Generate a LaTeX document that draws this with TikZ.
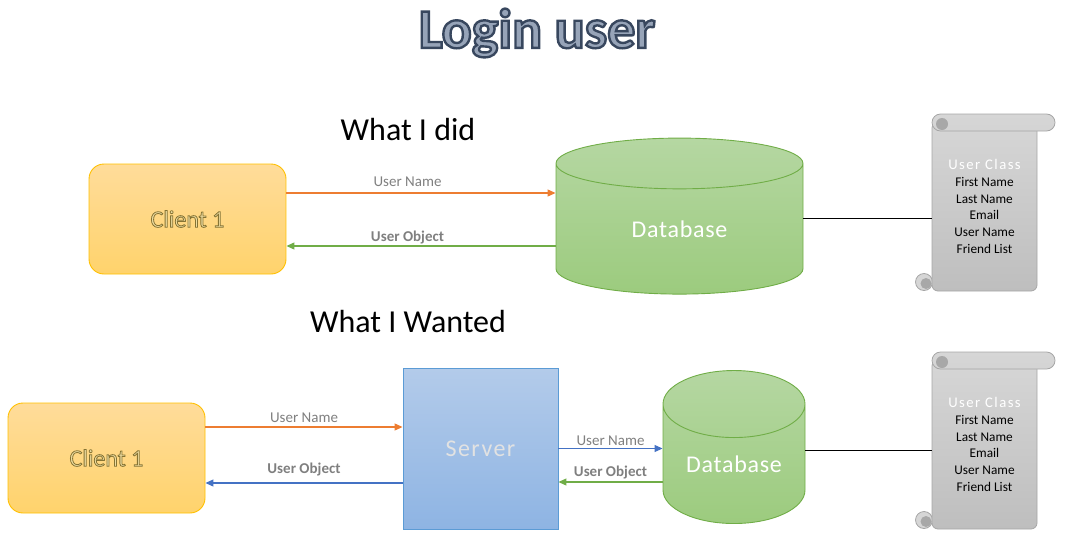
\documentclass[tikz,border=0pt]{standalone}
\usepackage{fontspec}
\setmainfont{Carlito}
\usetikzlibrary{shapes.geometric, arrows.meta, positioning}

\definecolor{clienttop}{HTML}{FFDC9A}
\definecolor{clientbot}{HTML}{FFD36C}
\definecolor{clientline}{HTML}{FFC000}
\definecolor{clienttext}{HTML}{EEDDA2}
\definecolor{servertop}{HTML}{B3CBEA}
\definecolor{serverbot}{HTML}{8EB4E3}
\definecolor{serverline}{HTML}{5B9BD5}
\definecolor{servertext}{HTML}{E2E2E2}
\definecolor{dbtop}{HTML}{B5D7A2}
\definecolor{dbbot}{HTML}{9CCB7E}
\definecolor{dbline}{HTML}{70AD47}
\definecolor{scrolltop}{HTML}{D6D6D6}
\definecolor{scrollbot}{HTML}{BEBEBE}
\definecolor{scrollline}{HTML}{A6A6A6}
\definecolor{scrolldark}{HTML}{A8A8A8}
\definecolor{orangeline}{HTML}{ED7D31}
\definecolor{greenline}{HTML}{70AD47}
\definecolor{blueline}{HTML}{4472C4}
\definecolor{labelgray}{HTML}{7F7F7F}
\definecolor{titlelight}{HTML}{97A4B8}

% filled text with a stroked edge (#1 width, #2 rgb of the edge, #3 fill colour)
\newcommand{\outlined}[4]{{\color{#3}\special{pdf:literal direct 2 Tr #1 w #2 RG}#4\special{pdf:literal direct 0 Tr}}}

\tikzset{
    base/.style = {text centered, inner sep=0pt, line width=0.9pt,
        font=\fontsize{24}{28}\selectfont},
    % Components
    client/.style = {base, rectangle, rounded corners=15pt, draw=clientline,
        top color=clienttop, bottom color=clientbot,
        minimum width=197pt, minimum height=110pt},
    server/.style = {base, rectangle, draw=serverline, top color=servertop,
        bottom color=serverbot, text=servertext,
        font=\fontsize{24}{28}\selectfont\addfontfeatures{LetterSpace=6},
        minimum width=155pt, minimum height=161pt},
    data/.style = {base, cylinder, shape border rotate=90, draw=dbline,
        top color=dbtop, bottom color=dbbot, text=white,
        font=\fontsize{24}{28}\selectfont\addfontfeatures{LetterSpace=3}},
    heading/.style = {font=\fontsize{32}{36}\selectfont},
    scrollbody/.style = {rectangle, rounded corners=6pt, draw=scrollline,
        line width=0.8pt, top color=scrolltop, bottom color=scrollbot,
        minimum width=105pt, minimum height=169pt, inner sep=0pt,
        align=center, font=\fontsize{13.3}{16.7}\selectfont},
    % Edges and annotations
    arrow/.style = {line width=1.1pt, -{Triangle[length=8pt,width=7pt]}},
    link/.style = {line width=0.8pt, black},
    annotation/.style = {font=\fontsize{15}{16}\selectfont, text=labelgray,
        inner sep=2pt},
    boldnote/.style = {annotation, font=\fontsize{15}{16}\selectfont\bfseries},
    % the paper roll holding the class fields
    pics/userclass/.style = {code = {
        \draw[scrollline, line width=0.8pt, fill=scrolltop] (-8,168) circle[radius=8.5];
        \fill[scrolldark] (-6,169.5) circle[radius=5.5];
        \node (-body) [scrollbody] at (52.5,92.5)
            {{\fontsize{14.7}{16.7}\selectfont\addfontfeatures{LetterSpace=10}\textcolor{white}{User Class}}\\
             First Name\\Last Name\\Email\\User Name\\Friend List};
        \draw[scrollline, line width=0.8pt, top color=scrolltop, bottom color=scrolltop!90!scrollbot,
            rounded corners=8.5pt] (0,0) rectangle (123,17);
        \fill[scrolldark] (10,10) circle[radius=6];
    }}
}

\begin{document}
\begin{tikzpicture}[x=1pt, y=-1pt]
    \useasboundingbox (0,0) rectangle (1073,541);

    % Titles
    \node (title) [font=\fontsize{56}{60}\selectfont\bfseries] at (537,33)
        {\outlined{2.4}{0.22 0.28 0.37}{titlelight}{Login user}};
    \node (did) [heading] at (408,130) {What I did};
    \node (wanted) [heading] at (408,322) {What I Wanted};

    % What I did
    \node (client1) [client] at (187.5,219) {\outlined{0.8}{0.52 0.45 0.2}{clienttext}{Client 1}};
    \node (db1) [data, minimum width=247pt, minimum height=156pt, aspect=0.53] at (679.5,229) {Database};
    \pic (sc1) at (932,114) {userclass};

    % What I Wanted
    \node (client2) [client] at (106.5,458) {\outlined{0.8}{0.52 0.45 0.2}{clienttext}{Client 1}};
    \node (server) [server] at (480.5,448.5) {Server};
    \node (db2) [data, minimum width=142pt, minimum height=153pt, aspect=0.7] at (734,464) {Database};
    \pic (sc2) at (932,352) {userclass};

    % Edges
    \draw [arrow, orangeline] ([yshift=26pt]client1.east) -- node[annotation, above, pos=0.45, yshift=4pt] {User Name} ([yshift=26pt]client1.east -| db1.west);
    \draw [arrow, greenline] ([yshift=-27pt]client1.east -| db1.west) -- node[boldnote, above, pos=0.55, yshift=-1pt] {User Object} ([yshift=-27pt]client1.east);
    \draw [link] ([yshift=11pt]db1.east) -- ([yshift=11pt]db1.east -| sc1-body.west);

    \draw [arrow, orangeline] ([yshift=31pt]client2.east) -- node[annotation, above, yshift=2pt] {User Name} ([yshift=31pt]client2.east -| server.west);
    \draw [arrow, blueline] ([yshift=-25pt]client2.east -| server.west) -- node[boldnote, above, yshift=4pt] {User Object} ([yshift=-25pt]client2.east);
    \draw [arrow, blueline] (server.east) -- node[annotation, above] {User Name} (server.east -| db2.west);
    \draw [arrow, greenline] ([yshift=-33.5pt]server.east -| db2.west) -- node[boldnote, above] {User Object} ([yshift=-33.5pt]server.east);
    \draw [link] ([yshift=14pt]db2.east) -- ([yshift=14pt]db2.east -| sc2-body.west);
\end{tikzpicture}
\end{document}
